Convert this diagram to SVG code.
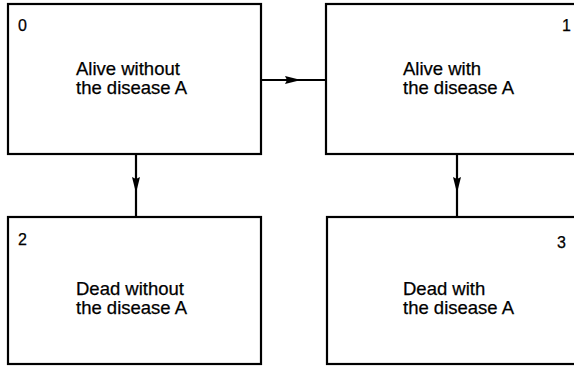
<svg xmlns="http://www.w3.org/2000/svg" width="574" height="367" viewBox="0 0 574 367">
<style>
.box{fill:#fff;stroke:#000;stroke-width:2.2}
.t{font-family:"Liberation Sans",Arial,sans-serif;font-size:18.5px;fill:#000;stroke:#000;stroke-width:0.25}
.n{font-family:"Liberation Sans",Arial,sans-serif;font-size:16px;fill:#000;stroke:#000;stroke-width:0.25}
.c{fill:none;stroke:#000;stroke-width:2.2}
</style>
<defs>
<marker id="ah" viewBox="0 0 16 10" refX="16" refY="5" markerWidth="16" markerHeight="10" markerUnits="userSpaceOnUse" orient="auto">
<path d="M0,1 L16,5 L0,9 L2,5 Z" fill="#000"/>
</marker>
</defs>
<rect width="574" height="367" fill="#fff"/>
<g id="connectors">
<path class="c" d="M261,80 L301,80 L326,80" marker-mid="url(#ah)"/>
<path class="c" d="M136,154 L136,193 L136,217" marker-mid="url(#ah)"/>
<path class="c" d="M457,154 L457,193 L457,217" marker-mid="url(#ah)"/>
</g>
<g id="node0">
<rect class="box" x="8" y="4" width="253" height="150"/>
<text class="n" x="18" y="31">0</text>
<text class="t" x="76" y="75">Alive without</text>
<text class="t" x="76" y="94">the disease A</text>
</g>
<g id="node1">
<rect class="box" x="326" y="4" width="260" height="150"/>
<text class="n" x="562" y="31">1</text>
<text class="t" x="403" y="75">Alive with</text>
<text class="t" x="403" y="94">the disease A</text>
</g>
<g id="node2">
<rect class="box" x="8" y="217" width="253" height="147"/>
<text class="n" x="18" y="245">2</text>
<text class="t" x="76" y="295">Dead without</text>
<text class="t" x="76" y="314">the disease A</text>
</g>
<g id="node3">
<rect class="box" x="327" y="217" width="260" height="147"/>
<text class="n" x="557" y="248">3</text>
<text class="t" x="403" y="295">Dead with</text>
<text class="t" x="403" y="314">the disease A</text>
</g>
</svg>
